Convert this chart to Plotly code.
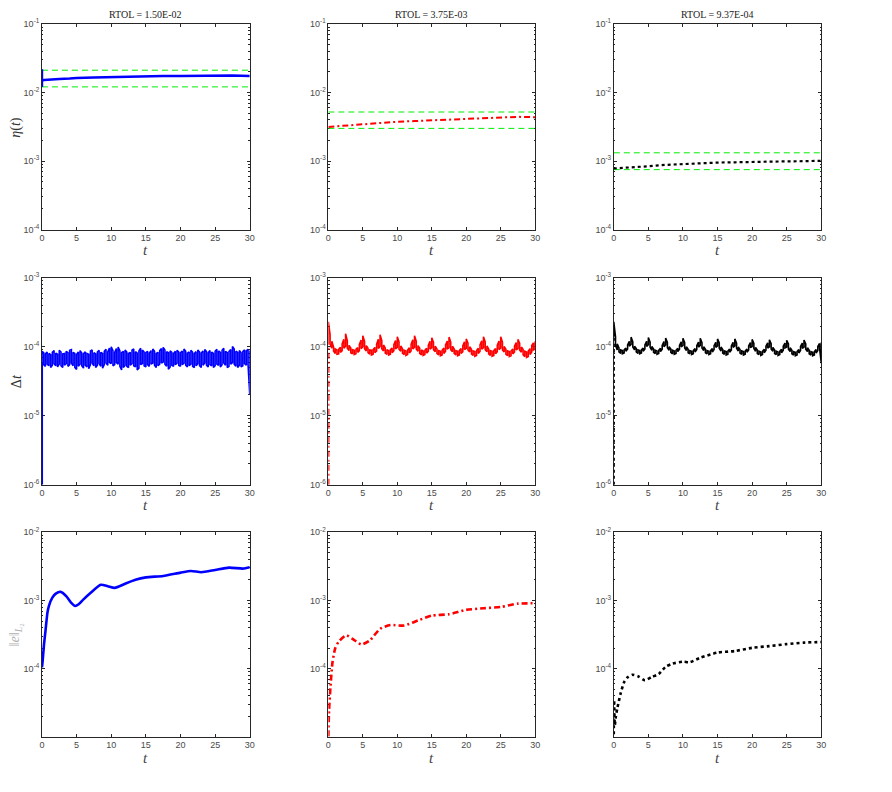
import plotly.graph_objects as go
import numpy as np

# ---------------- data ----------------
titles = ["RTOL = 1.50E-02", "RTOL = 3.75E-03", "RTOL = 9.37E-04"]
colors = ["#0000ff", "#ff0000", "#000000"]
x_ticks = [0, 5, 10, 15, 20, 25, 30]

# row 1: eta(t)
eta_t_blue = [0, 0, 0, 0.3, 1, 2.5, 4, 5, 7.5, 10, 12.5, 15, 17.5, 20, 22.5, 25, 27.5, 30]
eta_blue = [0.0121, 0.0219, 0.0150, 0.0152, 0.0155, 0.0158, 0.0160, 0.0163, 0.0166, 0.0169,
            0.0171, 0.0172, 0.0174, 0.0175, 0.0177, 0.0178, 0.0178, 0.0175]
eta_t = [0, 2.5, 5, 7.5, 10, 12.5, 15, 17.5, 20, 22.5, 25, 27.5, 30]
eta_red = [3.15e-3, 3.29e-3, 3.48e-3, 3.59e-3, 3.75e-3, 3.84e-3, 3.93e-3, 3.98e-3,
           4.10e-3, 4.14e-3, 4.24e-3, 4.42e-3, 4.37e-3]
eta_black = [7.8e-4, 8.0e-4, 8.4e-4, 8.8e-4, 9.1e-4, 9.35e-4, 9.5e-4, 9.6e-4,
             9.75e-4, 9.8e-4, 9.9e-4, 9.95e-4, 1.01e-3]
eta_lower = [0.0121, 0.00300, 0.00075]
eta_upper = [0.0212, 0.00520, 0.00132]

# row 2: time step (units of 1e-5), sampled every 0.25 in t
dt_first = [1.0e-6, 1.0e-6, 1.0e-6]
blue_dt_up = [8.6, 8.2, 7.9, 8.4, 8.0, 7.7, 8.3, 8.8, 8.1, 7.8,
              8.9, 8.4, 7.9, 8.0, 8.6, 8.2, 8.9, 9.1, 8.3, 8.0,
              7.7, 8.4, 8.8, 8.1, 7.9, 8.5, 8.0, 7.8, 8.7, 9.0,
              8.2, 7.9, 8.4, 8.9, 8.3, 8.0, 8.6, 9.2, 8.4, 9.6,
              10.0, 8.8, 8.3, 9.4, 9.9, 8.7, 8.2, 8.6, 9.0, 8.4,
              8.0, 8.3, 8.9, 9.3, 8.5, 8.1, 8.7, 9.5, 9.0, 8.4,
              8.2, 8.6, 8.1, 8.8, 9.3, 8.6, 8.0, 8.3, 8.8, 9.4,
              9.8, 9.0, 8.5, 8.2, 8.7, 8.3, 8.0, 8.6, 8.9, 8.4,
              8.2, 8.7, 9.3, 8.6, 8.1, 8.4, 8.9, 8.3, 8.0, 8.5,
              9.0, 8.4, 8.1, 8.7, 9.1, 8.5, 8.2, 8.8, 8.4, 8.0,
              8.6, 9.2, 8.7, 8.3, 8.9, 9.5, 8.6, 8.2, 8.5, 9.1,
              10.1, 9.3, 8.6, 8.3, 8.8, 8.2, 8.5, 9.0, 8.7, 9.2,
              8.8]
blue_dt_lo = [5.8, 5.5, 5.2, 5.6, 5.3, 5.0, 5.4, 5.7, 5.3, 5.1,
              5.6, 5.3, 5.0, 5.4, 5.7, 5.2, 5.5, 5.8, 5.3, 5.0,
              4.7, 5.2, 5.6, 5.3, 4.9, 5.4, 5.1, 4.8, 5.5, 5.8,
              5.3, 5.0, 5.4, 5.7, 5.2, 4.9, 5.5, 5.8, 5.4, 5.9,
              5.7, 5.3, 5.5, 5.9, 5.6, 5.2, 4.6, 5.0, 5.4, 5.2,
              5.0, 5.4, 5.7, 5.3, 5.1, 4.6, 4.9, 5.5, 5.7, 5.3,
              5.1, 5.5, 5.2, 5.6, 5.8, 5.4, 5.0, 5.3, 5.6, 5.8,
              6.0, 5.6, 5.2, 4.7, 5.1, 5.4, 5.2, 5.5, 5.8, 5.4,
              5.2, 5.5, 5.8, 5.4, 5.1, 5.3, 5.6, 5.2, 5.0, 5.3,
              5.7, 5.3, 5.0, 5.4, 5.8, 5.4, 5.1, 5.5, 5.3, 5.0,
              5.3, 5.6, 5.4, 5.1, 5.5, 5.8, 5.4, 5.0, 5.2, 5.6,
              5.9, 5.6, 5.2, 5.0, 5.4, 5.1, 5.3, 5.7, 5.4, 5.6,
              2.0]
red_dt_up = [23, 15, 12, 10, 9.3, 9.0, 9.2, 9.8, 11, 12.8,
             15.5, 12.2, 10.5, 9.6, 9.1, 8.9, 9.2, 9.7, 10.8, 12.5,
             14.5, 12.0, 10.4, 9.5, 9.0, 8.9, 9.1, 9.8, 10.9, 12.9,
             15.0, 12.3, 10.6, 9.6, 9.1, 8.8, 9.1, 9.6, 10.7, 12.3,
             14.0, 11.8, 10.3, 9.4, 8.9, 8.7, 9.0, 9.7, 10.8, 12.6,
             14.5, 12.0, 10.4, 9.5, 9.0, 8.7, 8.9, 9.5, 10.5, 12.0,
             13.5, 11.6, 10.2, 9.3, 8.8, 8.6, 8.9, 9.6, 10.6, 12.1,
             13.8, 11.7, 10.2, 9.3, 8.8, 8.6, 8.8, 9.4, 10.3, 11.8,
             13.0, 11.3, 10.0, 9.2, 8.7, 8.5, 8.8, 9.5, 10.6, 12.2,
             14.0, 11.8, 10.3, 9.3, 8.8, 8.6, 8.8, 9.4, 10.5, 12.1,
             14.0, 11.7, 10.1, 9.2, 8.7, 8.5, 8.7, 9.3, 10.2, 11.5,
             12.8, 11.2, 9.9, 9.1, 8.6, 8.4, 8.7, 9.4, 10.4, 11.4,
             12.0]
red_dt_lo = [13, 11, 9.5, 8.7, 8.0, 7.8, 7.9, 8.3, 8.8, 9.5,
             10.2, 9.5, 8.8, 8.2, 7.9, 7.7, 7.9, 8.3, 8.8, 9.4,
             10.0, 9.4, 8.7, 8.2, 7.8, 7.6, 7.8, 8.2, 8.7, 9.4,
             10.1, 9.4, 8.7, 8.1, 7.8, 7.6, 7.8, 8.2, 8.8, 9.3,
             9.8, 9.2, 8.6, 8.1, 7.7, 7.5, 7.7, 8.1, 8.7, 9.3,
             9.9, 9.3, 8.6, 8.0, 7.6, 7.5, 7.7, 8.1, 8.6, 9.2,
             9.7, 9.1, 8.5, 8.0, 7.6, 7.4, 7.6, 8.0, 8.6, 9.2,
             9.7, 9.1, 8.5, 8.0, 7.6, 7.4, 7.6, 8.0, 8.5, 9.1,
             9.5, 9.0, 8.4, 7.9, 7.5, 7.3, 7.5, 8.0, 8.6, 9.2,
             9.7, 9.1, 8.5, 7.9, 7.5, 7.3, 7.5, 7.9, 8.5, 9.1,
             9.6, 9.0, 8.4, 7.8, 7.4, 7.2, 7.4, 7.9, 8.4, 9.0,
             9.4, 8.9, 8.3, 7.7, 7.2, 7.0, 7.2, 7.7, 8.4, 9.0,
             9.3]
black_dt_up = [23, 14, 11, 9.6, 9.0, 8.8, 9.0, 9.6, 10.6, 12.0,
               13.8, 11.8, 10.2, 9.4, 9.0, 8.8, 9.0, 9.6, 10.6, 12.0,
               13.6, 11.7, 10.1, 9.3, 8.9, 8.7, 8.9, 9.5, 10.5, 11.9,
               13.4, 11.6, 10.0, 9.3, 8.9, 8.7, 8.9, 9.5, 10.5, 11.8,
               13.3, 11.5, 10.0, 9.2, 8.8, 8.6, 8.8, 9.4, 10.4, 11.7,
               13.3, 11.5, 10.0, 9.2, 8.8, 8.6, 8.8, 9.4, 10.4, 11.6,
               13.0, 11.4, 9.9, 9.1, 8.7, 8.5, 8.7, 9.3, 10.3, 11.6,
               13.0, 11.3, 9.9, 9.1, 8.7, 8.5, 8.7, 9.3, 10.3, 11.5,
               12.8, 11.2, 9.8, 9.0, 8.6, 8.4, 8.6, 9.2, 10.2, 11.4,
               12.6, 11.1, 9.8, 9.0, 8.6, 8.4, 8.6, 9.2, 10.2, 11.3,
               12.4, 11.0, 9.7, 8.9, 8.5, 8.3, 8.5, 9.1, 10.1, 11.3,
               12.5, 11.0, 9.7, 8.9, 8.5, 8.3, 8.5, 9.1, 10.1, 11.2,
               11.5]
black_dt_lo = [14, 10.5, 9.0, 8.4, 8.0, 7.9, 8.1, 8.6, 9.3, 10.2,
               10.8, 9.9, 9.0, 8.4, 8.0, 7.9, 8.1, 8.6, 9.3, 10.1,
               10.7, 9.8, 8.9, 8.3, 8.0, 7.8, 8.0, 8.5, 9.2, 10.0,
               10.6, 9.7, 8.9, 8.3, 7.9, 7.8, 8.0, 8.5, 9.2, 10.0,
               10.5, 9.6, 8.8, 8.2, 7.9, 7.7, 7.9, 8.4, 9.1, 9.9,
               10.5, 9.6, 8.8, 8.2, 7.9, 7.7, 7.9, 8.4, 9.1, 9.8,
               10.3, 9.5, 8.7, 8.1, 7.8, 7.6, 7.8, 8.3, 9.0, 9.8,
               10.3, 9.5, 8.7, 8.1, 7.8, 7.6, 7.8, 8.3, 9.0, 9.7,
               10.1, 9.4, 8.6, 8.0, 7.7, 7.5, 7.7, 8.2, 8.9, 9.6,
               10.0, 9.3, 8.6, 8.0, 7.7, 7.5, 7.7, 8.2, 8.9, 9.6,
               9.9, 9.2, 8.5, 7.9, 7.6, 7.4, 7.6, 8.1, 8.8, 9.5,
               9.9, 9.2, 8.5, 7.9, 7.6, 7.4, 7.6, 8.1, 8.8, 9.5,
               5.8]

# row 3: error
err_t_blue = [0, 0.1, 0.3, 0.5, 0.8, 1.0, 1.5, 2.0, 2.7, 3.5, 4.2, 4.8, 5.3, 6.0, 7.0, 8.5,
              9.5, 10.5, 12.0, 13.5, 15.0, 17.5, 20.0, 21.5, 23.0, 25.0, 27.0, 29.0, 30.0]
err_blue = [1.05e-4, 1.3e-4, 2.3e-4, 3.5e-4, 6.7e-4, 8.3e-4, 1.10e-3, 1.26e-3, 1.34e-3, 1.16e-3,
            9.3e-4, 8.3e-4, 8.8e-4, 1.04e-3, 1.29e-3, 1.70e-3, 1.62e-3, 1.53e-3, 1.76e-3, 2.01e-3,
            2.18e-3, 2.29e-3, 2.56e-3, 2.71e-3, 2.60e-3, 2.80e-3, 3.03e-3, 2.93e-3, 3.06e-3]
err_t_red = [0, 0.1, 0.3, 0.6, 1.0, 1.5, 2.6, 3.5, 4.8, 6.0, 7.5, 9.0, 11.0, 13.0, 15.0,
             17.5, 20.0, 22.5, 25.0, 27.5, 30.0]
err_red = [1.02e-5, 2.45e-5, 5.3e-5, 1.25e-4, 2.0e-4, 2.5e-4, 3.1e-4, 2.75e-4, 2.27e-4, 2.6e-4,
           3.85e-4, 4.37e-4, 4.3e-4, 5.1e-4, 6.0e-4, 6.3e-4, 7.3e-4, 7.7e-4, 8.05e-4, 9.0e-4, 9.1e-4]
err_t_black = [0, 0.05, 0.15, 0.3, 0.5, 1.0, 1.5, 2.0, 2.7, 3.5, 4.5, 5.5, 6.5, 7.5, 8.5, 10.0,
               11.0, 12.5, 15.0, 17.5, 20.0, 22.5, 25.0, 27.5, 30.0]
err_black = [1.1e-5, 3.5e-5, 1.5e-5, 2.0e-5, 2.6e-5, 4.4e-5, 6.4e-5, 7.5e-5, 8.2e-5, 7.8e-5,
             6.8e-5, 7.6e-5, 8.4e-5, 1.07e-4, 1.19e-4, 1.27e-4, 1.25e-4, 1.45e-4, 1.73e-4,
             1.82e-4, 2.03e-4, 2.15e-4, 2.30e-4, 2.42e-4, 2.47e-4]

# ---------------- figure ----------------
W, H = 892, 792
xpix = [(39.3, 249.0), (328.3, 537.0), (616.3, 825.7)]
ypix = [(17.3, 226.0), (275.0, 485.0), (533.3, 741.0)]
xd = [[a / W, b / W] for a, b in xpix]
yd = [[1 - b / H, 1 - a / H] for a, b in ypix]

yranges = [[-4, -1], [-6, -3], [-4.995, -2]]
ytickvals = [[1e-4, 1e-3, 1e-2, 1e-1], [1e-6, 1e-5, 1e-4, 1e-3], [1e-4, 1e-3, 1e-2]]
ytext = {1e-1: "-1", 1e-2: "-2", 1e-3: "-3", 1e-4: "-4", 1e-5: "-5", 1e-6: "-6"}

fig = go.Figure()
AX = "#262626"
tickfont = dict(family="Liberation Sans, Arial, sans-serif", size=9, color="#4a4a4a")
serif = "Liberation Serif, Times New Roman, serif"


def sfx(r, c):
    i = r * 3 + c + 1
    return "" if i == 1 else str(i)


def zigzag(tvals, up, lo, scale):
    xs, ys = [], []
    for i, t in enumerate(tvals):
        if i % 2 == 0:
            xs += [t, t]
            ys += [lo[i] * scale, up[i] * scale]
        else:
            xs += [t, t]
            ys += [up[i] * scale, lo[i] * scale]
    return xs, ys


dashes = ["solid", "6px,3px,2px,3px", "dot"]

for r in range(3):
    for c in range(3):
        s = sfx(r, c)
        fig.layout[f"xaxis{s}"] = dict(
            domain=xd[c], anchor=f"y{s}", range=[0, 30], tickvals=x_ticks,
            ticks="inside", ticklen=3, tickcolor=AX, tickwidth=0.8,
            showline=True, linecolor=AX, linewidth=0.8, mirror="ticks",
            showgrid=False, zeroline=False, tickfont=tickfont, layer="below traces",
        )
        fig.layout[f"yaxis{s}"] = dict(
            domain=yd[r], anchor=f"x{s}", type="log", range=yranges[r],
            tickvals=ytickvals[r],
            ticktext=["10<sup>" + ytext[v] + "</sup>" for v in ytickvals[r]],
            ticks="inside", ticklen=3, tickcolor=AX, tickwidth=0.8,
            minor=dict(ticks="inside", ticklen=1.5, tickcolor=AX, dtick="D1", showgrid=False),
            showline=True, linecolor=AX, linewidth=0.8, mirror="ticks",
            showgrid=False, zeroline=False, tickfont=tickfont, layer="below traces",
        )

# row 1
eta_series = [(eta_t_blue, eta_blue), (eta_t, eta_red), (eta_t, eta_black)]
eta_widths = [2.5, 2.0, 2.2]
for c in range(3):
    s = sfx(0, c)
    for val in (eta_upper[c], eta_lower[c]):
        fig.add_trace(go.Scatter(x=[0, 30], y=[val, val], mode="lines",
                                 line=dict(color="#00ee00", width=1, dash="6px,4px"),
                                 xaxis=f"x{s}", yaxis=f"y{s}", showlegend=False))
    tx, vy = eta_series[c]
    fig.add_trace(go.Scatter(x=tx, y=vy, mode="lines",
                             line=dict(color=colors[c], width=eta_widths[c], dash=dashes[c]),
                             xaxis=f"x{s}", yaxis=f"y{s}", showlegend=False, cliponaxis=False))

# row 2
dt_series = [(blue_dt_up, blue_dt_lo), (red_dt_up, red_dt_lo), (black_dt_up, black_dt_lo)]
for c in range(3):
    s = sfx(1, c)
    up, lo = dt_series[c]
    tgrid = list(np.linspace(0, 30, len(up)))
    fig.add_trace(go.Scatter(x=[0, 0], y=[dt_first[c], lo[0] * 1e-5], mode="lines",
                             line=dict(color=colors[c], width=2.2, dash=dashes[c]),
                             xaxis=f"x{s}", yaxis=f"y{s}", showlegend=False))
    xs, ys = zigzag(tgrid, up, lo, 1e-5)
    fig.add_trace(go.Scatter(x=xs, y=ys, mode="lines",
                             line=dict(color=colors[c], width=1.6),
                             xaxis=f"x{s}", yaxis=f"y{s}", showlegend=False))

# row 3
err_series = [(err_t_blue, err_blue), (err_t_red, err_red), (err_t_black, err_black)]
for c in range(3):
    s = sfx(2, c)
    tx, vy = err_series[c]
    fig.add_trace(go.Scatter(x=tx, y=vy, mode="lines",
                             line=dict(color=colors[c], width=2.6, dash=dashes[c], shape="spline",
                                       smoothing=0.6),
                             xaxis=f"x{s}", yaxis=f"y{s}", showlegend=False))

ann = []
for c in range(3):
    xc = (xd[c][0] + xd[c][1]) / 2
    ann.append(dict(x=xc, y=1 - 8 / H, xref="paper", yref="paper", text=titles[c],
                    showarrow=False, font=dict(family=serif, size=10, color="#222"),
                    xanchor="center", yanchor="middle"))
    for r in range(3):
        ann.append(dict(x=xc, y=1 - (ypix[r][1] + 11) / H, xref="paper", yref="paper",
                        text="<i>t</i>", showarrow=False,
                        font=dict(family=serif, size=15, color="#444"),
                        xanchor="center", yanchor="top"))

ylabels = ["<i>η</i>(<i>t</i>)", "Δ<i>t</i>", "‖<i>e</i>‖<sub><i>L</i>₂</sub>"]
ylab_colors = ["#333", "#333", "#b0b0b0"]
for r in range(3):
    yc = 1 - (ypix[r][0] + ypix[r][1]) / 2 / H
    ann.append(dict(x=13 / W, y=yc, xref="paper", yref="paper", text=ylabels[r],
                    textangle=-90, showarrow=False,
                    font=dict(family=serif, size=14, color=ylab_colors[r]),
                    xanchor="center", yanchor="middle"))

fig.update_layout(
    width=W, height=H, margin=dict(l=0, r=0, t=0, b=0),
    paper_bgcolor="white", plot_bgcolor="white", annotations=ann, showlegend=False,
)

fig.write_html("out.html")
